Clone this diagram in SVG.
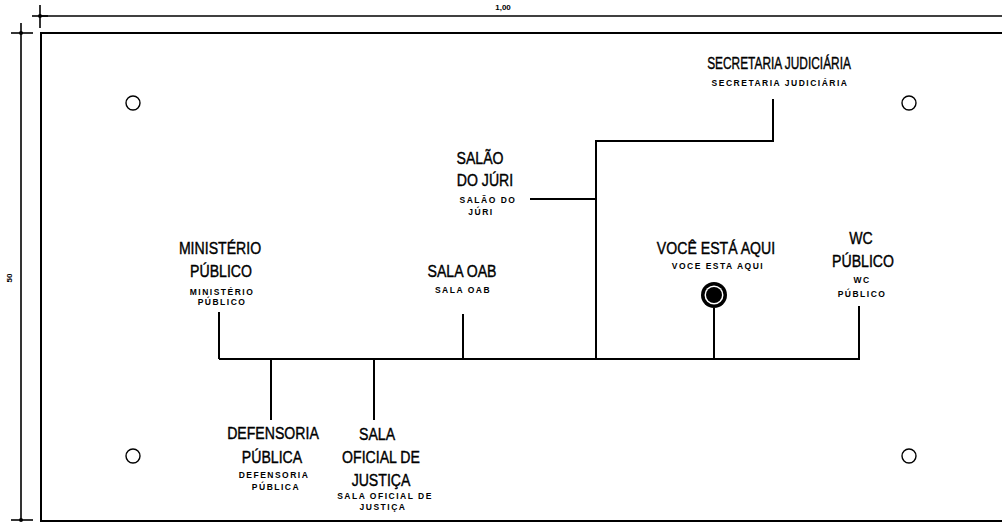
<svg xmlns="http://www.w3.org/2000/svg" width="1002" height="525" viewBox="0 0 1002 525">
<style>
.ln{stroke:#000;stroke-width:2;fill:none}
.dim{stroke:#000;stroke-width:1.6;fill:none}
.hole{stroke:#000;stroke-width:1.4;fill:#fff}
.big{font-family:"Liberation Sans",Arial,sans-serif;font-size:17px;fill:#000;stroke:#000;stroke-width:0.4;text-anchor:middle}
.sm{font-family:"Liberation Sans",Arial,sans-serif;font-size:8.5px;font-weight:bold;fill:#000;text-anchor:middle;letter-spacing:1.5px}
.dt{font-family:"Liberation Sans",Arial,sans-serif;font-size:8px;font-weight:bold;fill:#000;text-anchor:middle}
</style>
<rect width="1002" height="525" fill="#fff"/>
<g id="dimensions">
<line class="dim" x1="40" y1="16" x2="1002" y2="16"/>
<line class="dim" x1="40" y1="5" x2="40" y2="28"/>
<line class="dim" x1="32" y1="16" x2="48" y2="16"/>
<circle cx="40" cy="16" r="2"/>
<text class="dt" x="503" y="10">1,00</text>
<line class="dim" x1="21" y1="33" x2="21" y2="520"/>
<line class="dim" x1="11" y1="33" x2="33" y2="33"/>
<line class="dim" x1="21" y1="23" x2="21" y2="33"/>
<line class="dim" x1="11" y1="520" x2="33" y2="520"/>
<circle cx="21" cy="33" r="2"/>
<circle cx="21" cy="520" r="2"/>
<text class="dt" transform="translate(12,278) rotate(-90)">50</text>
</g>
<g id="board">
<rect class="ln" x="41" y="33" width="970" height="488"/>
<circle class="hole" cx="133" cy="103" r="7"/>
<circle class="hole" cx="909" cy="103" r="7"/>
<circle class="hole" cx="133" cy="456" r="7"/>
<circle class="hole" cx="909" cy="456" r="7"/>
</g>
<g id="connectors">
<line class="ln" x1="219" y1="359" x2="860" y2="359"/>
<line class="ln" x1="219" y1="312" x2="219" y2="359"/>
<line class="ln" x1="271" y1="359" x2="271" y2="420"/>
<line class="ln" x1="374" y1="359" x2="374" y2="420"/>
<line class="ln" x1="463" y1="314" x2="463" y2="359"/>
<polyline class="ln" points="596,359 596,141 773,141 773,99"/>
<line class="ln" x1="530" y1="199" x2="596" y2="199"/>
<line class="ln" x1="714" y1="308" x2="714" y2="359"/>
<line class="ln" x1="859" y1="306" x2="859" y2="359"/>
</g>
<g id="secretaria">
<text class="big" transform="translate(779,69) scale(0.7,1)">SECRETARIA JUDICIÁRIA</text>
<text class="sm" x="780" y="86">SECRETARIA JUDICIÁRIA</text>
</g>
<g id="salao-juri">
<text class="big" transform="translate(480,164) scale(0.83,1)">SALÃO</text>
<text class="big" transform="translate(485,186) scale(0.83,1)">DO JÚRI</text>
<text class="sm" x="488" y="203">SALÃO DO</text>
<text class="sm" x="481" y="215">JÚRI</text>
</g>
<g id="ministerio">
<text class="big" transform="translate(220,254) scale(0.83,1)">MINISTÉRIO</text>
<text class="big" transform="translate(221,277) scale(0.83,1)">PÚBLICO</text>
<text class="sm" x="222" y="295">MINISTÉRIO</text>
<text class="sm" x="222" y="305">PÚBLICO</text>
</g>
<g id="sala-oab">
<text class="big" transform="translate(462,277) scale(0.83,1)">SALA OAB</text>
<text class="sm" x="463" y="293">SALA OAB</text>
</g>
<g id="voce-esta-aqui">
<text class="big" transform="translate(716,254) scale(0.83,1)">VOCÊ ESTÁ AQUI</text>
<text class="sm" x="718" y="269">VOCE ESTA AQUI</text>
<circle cx="714" cy="295" r="13" fill="#000"/>
<circle cx="714" cy="295" r="9.5" fill="#fff"/>
<circle cx="714" cy="295" r="8" fill="#000"/>
</g>
<g id="wc-publico">
<text class="big" transform="translate(861,244) scale(0.83,1)">WC</text>
<text class="big" transform="translate(863,267) scale(0.83,1)">PÚBLICO</text>
<text class="sm" x="862" y="283">WC</text>
<text class="sm" x="862" y="297">PÚBLICO</text>
</g>
<g id="defensoria">
<text class="big" transform="translate(273,439) scale(0.83,1)">DEFENSORIA</text>
<text class="big" transform="translate(272,463) scale(0.83,1)">PÚBLICA</text>
<text class="sm" x="274" y="478">DEFENSORIA</text>
<text class="sm" x="276" y="490">PÚBLICA</text>
</g>
<g id="sala-oficial">
<text class="big" transform="translate(377,440) scale(0.83,1)">SALA</text>
<text class="big" transform="translate(381,463) scale(0.83,1)">OFICIAL DE</text>
<text class="big" transform="translate(381,486) scale(0.83,1)">JUSTIÇA</text>
<text class="sm" x="385" y="499">SALA OFICIAL DE</text>
<text class="sm" x="383" y="510">JUSTIÇA</text>
</g>
</svg>
